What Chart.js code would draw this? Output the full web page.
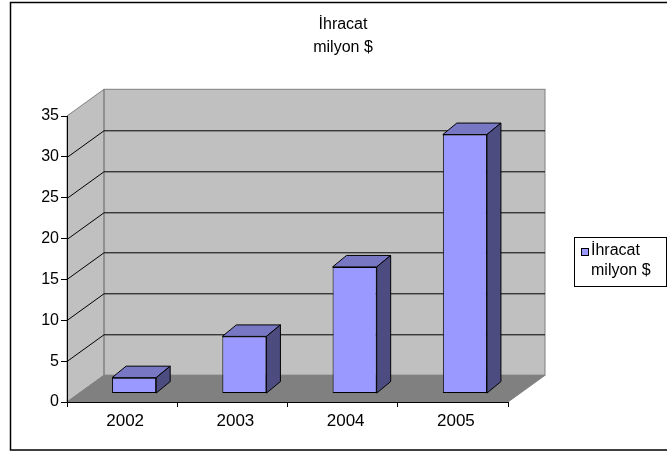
<html lang="tr">
<head>
<meta charset="UTF-8">
<title>İhracat milyon $</title>
<script src="https://cdn.jsdelivr.net/npm/chart.js"></script>
<style>
  body { margin: 0; padding: 0; background: #fff; }
  canvas { display: block; }
</style>
</head>
<body>
<canvas id="chart" width="667" height="455"></canvas>
<script>
// data
const years = ['2002', '2003', '2004', '2005'];
const exports = [1.95, 7.0, 15.5, 31.7];
const yMax = 35;
const yStep = 5;
const titleLines = ['İhracat', 'milyon $'];

const FONT = '"Liberation Sans", Arial, sans-serif';

// 3d look: depth of the walls and of the bars
const wallDx = 37, wallDy = -26.7;
const barShiftX = 12, barShiftY = -8.4;
const barDx = 14, barDy = -11.5;

const threeD = {
  id: 'threeD',
  beforeDraw(chart) {
    const ctx = chart.ctx;
    const { left, right, top, bottom } = chart.chartArea;
    const y = chart.scales.y;
    ctx.save();
    ctx.fillStyle = '#fff';
    ctx.fillRect(0, 0, chart.width, chart.height);

    // outer frame
    ctx.strokeStyle = '#000';
    ctx.lineWidth = 1.5;
    ctx.strokeRect(10.5, 2.5, 700, 447.5);

    ctx.lineWidth = 1;
    // back wall
    ctx.fillStyle = '#c0c0c0';
    ctx.fillRect(left + wallDx, top + wallDy, right - left, bottom - top);
    // left wall
    ctx.beginPath();
    ctx.moveTo(left, bottom);
    ctx.lineTo(left, top);
    ctx.lineTo(left + wallDx, top + wallDy);
    ctx.lineTo(left + wallDx, bottom + wallDy);
    ctx.closePath();
    ctx.fill();
    ctx.strokeStyle = '#808080';
    ctx.stroke();
    ctx.strokeRect(left + wallDx, top + wallDy, right - left, bottom - top);
    // floor
    ctx.fillStyle = '#808080';
    ctx.beginPath();
    ctx.moveTo(left, bottom);
    ctx.lineTo(right, bottom);
    ctx.lineTo(right + wallDx, bottom + wallDy);
    ctx.lineTo(left + wallDx, bottom + wallDy);
    ctx.closePath();
    ctx.fill();
    ctx.stroke();

    // gridlines on the walls
    ctx.strokeStyle = '#000';
    y.ticks.forEach(t => {
      if (t.value <= 0 || t.value >= yMax) return;
      const py = Math.round(y.getPixelForValue(t.value)) + 0.5;
      ctx.beginPath();
      ctx.moveTo(left, py);
      ctx.lineTo(left + wallDx, py + wallDy);
      ctx.lineTo(right + wallDx, py + wallDy);
      ctx.stroke();
    });
    ctx.restore();
  },
  beforeDatasetDraw(chart) {
    chart.ctx.save();
    chart.ctx.translate(barShiftX, barShiftY);
  },
  afterDatasetDraw(chart, args) {
    const ctx = chart.ctx;
    ctx.strokeStyle = '#000';
    ctx.lineWidth = 1;
    args.meta.data.forEach(bar => {
      const { x, y, base, width } = bar.getProps(['x', 'y', 'base', 'width'], true);
      const l = x - width / 2, r = x + width / 2;
      // top face
      ctx.fillStyle = '#7777c4';
      ctx.beginPath();
      ctx.moveTo(l, y);
      ctx.lineTo(r, y);
      ctx.lineTo(r + barDx, y + barDy);
      ctx.lineTo(l + barDx, y + barDy);
      ctx.closePath();
      ctx.fill();
      ctx.stroke();
      // side face
      ctx.fillStyle = '#4c4c80';
      ctx.beginPath();
      ctx.moveTo(r, y);
      ctx.lineTo(r, base);
      ctx.lineTo(r + barDx, base + barDy);
      ctx.lineTo(r + barDx, y + barDy);
      ctx.closePath();
      ctx.fill();
      ctx.stroke();
    });
    ctx.restore();
  },
  afterDraw(chart) {
    const ctx = chart.ctx;
    ctx.save();
    ctx.fillStyle = '#000';
    ctx.font = '16px ' + FONT;
    ctx.textBaseline = 'middle';
    ctx.textAlign = 'center';
    ctx.fillText(titleLines[0], 343, 25);
    ctx.fillText(titleLines[1], 343, 48);

    // legend
    ctx.strokeStyle = '#000';
    ctx.lineWidth = 1;
    ctx.fillStyle = '#fff';
    ctx.fillRect(574.5, 237.5, 92, 49);
    ctx.strokeRect(574.5, 237.5, 92, 49);
    ctx.fillStyle = '#9999ff';
    ctx.fillRect(581.5, 248.5, 7, 7);
    ctx.strokeRect(581.5, 248.5, 7, 7);
    ctx.fillStyle = '#000';
    ctx.textAlign = 'left';
    ctx.fillText(titleLines[0], 591, 251);
    ctx.fillText(titleLines[1], 591, 271);
    ctx.restore();
  }
};

new Chart(document.getElementById('chart').getContext('2d'), {
  type: 'bar',
  data: {
    labels: years,
    datasets: [{
      label: titleLines.join(' '),
      data: exports,
      backgroundColor: '#9999ff',
      borderColor: '#000',
      borderWidth: 1,
      borderSkipped: false,
      barPercentage: 0.4,
      categoryPercentage: 1
    }]
  },
  options: {
    responsive: false,
    animation: false,
    layout: { padding: { left: 10, right: 159, top: 116, bottom: 20 } },
    plugins: {
      legend: { display: false },
      title: { display: false },
      tooltip: { enabled: false }
    },
    scales: {
      x: {
        grid: { drawOnChartArea: false, drawTicks: true, tickLength: 5, color: '#000', offset: true },
        border: { color: '#000' },
        ticks: { color: '#000', font: { size: 17, family: FONT }, padding: 4, labelOffset: 3 },
        afterFit: s => { s.height = 33; }
      },
      y: {
        min: 0,
        max: yMax,
        grid: { drawOnChartArea: false, drawTicks: true, tickLength: 6, color: '#000' },
        border: { color: '#000' },
        ticks: { stepSize: yStep, color: '#000', font: { size: 16, family: FONT }, padding: 2 },
        afterFit: s => { s.width = 57; }
      }
    }
  },
  plugins: [threeD]
});
</script>
</body>
</html>
